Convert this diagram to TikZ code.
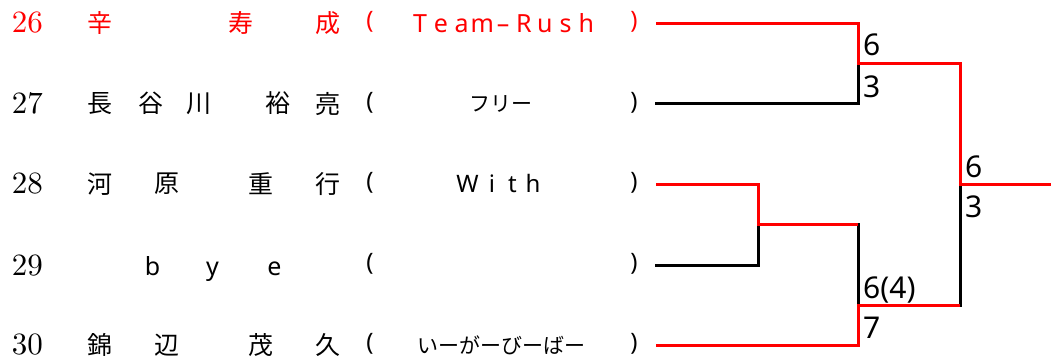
\documentclass[tikz,border=0pt]{standalone}
\usepackage{fontspec}
\newfontfamily\jp{Noto Sans CJK JP}
\newfontfamily\lat{Noto Sans}
\newfontfamily\numfont{lmroman10-regular.otf}
\begin{document}
\begin{tikzpicture}[x=1pt,y=-1pt,
  num/.style={font=\numfont\fontsize{31}{31}\selectfont, inner sep=0, anchor=center},
  jc/.style={font=\jp\fontsize{25}{25}\selectfont, inner sep=0, anchor=center},
  lc/.style={font=\lat\fontsize{25}{25}\selectfont, inner sep=0, anchor=base},
  kana/.style={font=\jp\fontsize{21}{21}\selectfont, inner sep=0, anchor=center},
  paren/.style={font=\lat\fontsize{24}{24}\selectfont, inner sep=0, anchor=center},
  score/.style={font=\lat\fontsize{30}{30}\selectfont, inner sep=0, anchor=base west},
  win/.style={draw=red, line width=3pt, line join=miter},
  lose/.style={draw=black, line width=3pt, line join=miter, line cap=rect},
]
\useasboundingbox (0,0) rectangle (1051,360);

% row numbers
\node[num,red] (r26) at (27.5,23) {26};
\node[num] (r27) at (27.5,103.5) {27};
\node[num] (r28) at (27.5,184) {28};
\node[num] (r29) at (27.5,265.5) {29};
\node[num] (r30) at (27.5,345) {30};

% names
\foreach \x/\c [count=\i] in {100/辛,241/寿,327.5/成}
  \node[jc,red] (n26\i) at (\x,23) {\c};
\foreach \x/\c [count=\i] in {100/長,151/谷,199/川,278/裕,327.5/亮}
  \node[jc] (n27\i) at (\x,103.5) {\c};
\foreach \x/\c [count=\i] in {100/河,167/原,261/重,327.5/行}
  \node[jc] (n28\i) at (\x,184) {\c};
\foreach \x/\c [count=\i] in {152.5/b,212.5/y,274.5/e}
  \node[lc] (n29\i) at (\x,275) {\c};
\foreach \x/\c [count=\i] in {100/錦,166.5/辺,261/茂,327.5/久}
  \node[jc] (n30\i) at (\x,345) {\c};

% parentheses
\foreach \y/\k in {22/26,102.5/27,183/28,264/29,344/30}{
  \ifnum\k=26
    \node[paren,red] (lp\k) at (370,\y) {(};
    \node[paren,red] (rp\k) at (634,\y) {)};
  \else
    \node[paren] (lp\k) at (370,\y) {(};
    \node[paren] (rp\k) at (634,\y) {)};
  \fi
}

% team names
\foreach \c [count=\i] in {T,e,a,m,–,R,u,s,h}
  \node[lc,red] (t26\i) at ({420+20.8*(\i-1)},32) {\c};
\node[kana] (t27) at (501,104) {フリー};
\foreach \x/\c [count=\i] in {467.5/W,492/i,512.5/t,533/h}
  \node[lc,font=\lat\fontsize{24}{24}\selectfont] (t28\i) at (\x,192) {\c};
\node[kana] (t30) at (501.5,345) {いーがーびーばー};

% bracket coordinates
\coordinate (p26) at (656,23);
\coordinate (p27) at (656,103);
\coordinate (p28) at (656,184);
\coordinate (p29) at (656,265);
\coordinate (p30) at (656,345);
\coordinate (j1) at (858,63);
\coordinate (j2) at (758,224);
\coordinate (q3) at (858,224);
\coordinate (j3) at (858,305);
\coordinate (q4) at (960,305);
\coordinate (j4) at (960,184);
\coordinate (fin) at (1051,184);

% losers
\draw[lose] (p27) -| (j1);
\draw[lose] (p29) -| (j2);
\draw[lose] (q3) -- (j3);
\draw[lose] (q4) -- (j4);
% winners
\draw[win] (p26) -| (j1) -| (j4) -- (fin);
\draw[win] (p28) -| (j2) -- (q3);
\draw[win] (p30) -| (j3) -- (q4);

% scores
\node[score] (s1) at (863,55) {6};
\node[score] (s2) at (863,97) {3};
\node[score] (s3) at (965,177) {6};
\node[score] (s4) at (965,217) {3};
\node[score] (s5) at (863,298) {6(4)};
\node[score] (s6) at (863,338) {7};
\end{tikzpicture}
\end{document}
